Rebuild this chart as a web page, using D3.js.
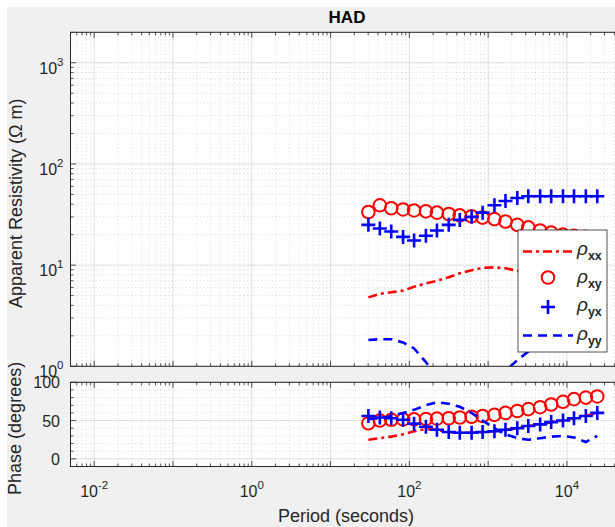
<!DOCTYPE html>
<html>
<head>
<meta charset="utf-8">
<script src="https://cdn.jsdelivr.net/npm/d3@7/dist/d3.min.js"></script>
<style>
  body { margin: 0; background: #ffffff; overflow: hidden; }
  svg { display: block; font-family: "Liberation Sans", Arial, Helvetica, sans-serif; }
</style>
</head>
<body>
<svg id="chart" width="615" height="527"></svg>
<script>
// Sounding periods (s)
const periods = [30.2, 42.2, 58.9, 83.2, 114.8, 162.2, 223.9, 316.2, 436.5, 616.6, 851.1,
                 1202, 1660, 2344, 3236, 4571, 6310, 8913, 12300, 17380, 24270];

// Apparent resistivity (ohm m)
const rhoXX = [4.8, 5.2, 5.4, 5.6, 6.1, 6.6, 7.0, 7.6, 8.3, 8.9, 9.4,
               9.5, 9.3, 8.8, 8.3, 7.8, 7.2, 6.8, 6.5, 6.2, 6.0];
const rhoXY = [33.5, 39, 36.5, 35.5, 34.7, 34, 33, 32, 31, 30.4, 29.5,
               28.5, 27, 25, 23.6, 22, 21, 20, 19.5, 19, 18.5];
const rhoYX = [25, 23, 21.5, 19, 17.5, 19.5, 22, 25, 28, 30, 33,
               39, 43, 46, 48, 48, 48, 48, 48, 48, 48];
const rhoYY = [1.82, 1.85, 1.85, 1.72, 1.5, 1.1, 0.8, 0.6, 0.5, 0.45, 0.5,
               0.65, 0.9, 1.15, 1.4, 1.8, 2.0, 2.1, 2.0, 1.9, 1.9];

// Impedance phase (degrees)
const phiXX = [25, 27, 29, 32, 36, 39, 38, 35, 34, 34, 35,
               36, 38, 40, 43, 45, 48, 50, 53, 56, 60];
const phiXY = [46.5, 50, 51, 51.5, 51.5, 52, 52.5, 53, 54, 55, 56,
               57.5, 60, 62.5, 65, 67.5, 71, 74.5, 78, 80, 81.5];
const phiYX = [56, 54, 53, 51, 46, 42, 38, 35, 34, 34, 35,
               36, 38, 40, 43, 45, 48, 50, 53, 56, 60];
const phiYY = [52, 53, 56, 60, 64, 70, 74, 72, 68, 60, 50,
               40, 32, 27, 25, 27, 29, 30, 28, 22, 30];

// Axis ticks
const periodTickExps = [-2, 0, 2, 4];
const rhoTickExps = [0, 1, 2, 3];
const phaseTicks = [0, 50, 100];

const titleText = "HAD";
const legendKeys = ["xx", "xy", "yx", "yy"];

const RED = "#ff0000", BLUE = "#0000ff", AX = "#262626";

const svg = d3.select("#chart");
// figure background
svg.append("rect").attr("x", 7).attr("y", 7).attr("width", 615).attr("height", 527).attr("fill", "#f0f0f0");

const L = 70.5, R = 622;
const top1 = 32.3, bot1 = 366.3;
const top2 = 382.3, bot2 = 466.5;

const x = d3.scaleLog().domain([0.005, 50000]).range([L, R]);
const yRho = d3.scaleLog().domain([1, 2000]).range([bot1, top1]);
const yPhi = d3.scaleLinear().domain([-10, 100]).range([bot2, top2]);

const defs = svg.append("defs");
defs.append("clipPath").attr("id", "clipTop").append("rect")
  .attr("x", L).attr("y", top1).attr("width", R - L).attr("height", bot1 - top1);
defs.append("clipPath").attr("id", "clipBot").append("rect")
  .attr("x", L).attr("y", top2).attr("width", R - L).attr("height", bot2 - top2);

// log-scale minor/major values within a domain
function logValues(domain) {
  const out = [];
  const lo = Math.floor(Math.log10(domain[0])), hi = Math.ceil(Math.log10(domain[1]));
  for (let d = lo; d <= hi; d++) {
    for (let m = 1; m <= 9; m++) {
      const v = m * Math.pow(10, d);
      if (v >= domain[0] * 0.9999 && v <= domain[1] * 1.0001) out.push({ v, major: m === 1 });
    }
  }
  return out;
}

const xVals = logValues(x.domain());

function drawPanel(yScale, yVals, top, bot, clipId) {
  const g = svg.append("g");
  g.append("rect").attr("x", L).attr("y", top).attr("width", R - L).attr("height", bot - top).attr("fill", "#ffffff");
  const grid = g.append("g");
  // minor grid (dotted)
  xVals.filter(d => !d.major).forEach(d => {
    grid.append("line").attr("x1", x(d.v)).attr("x2", x(d.v)).attr("y1", top).attr("y2", bot)
      .attr("stroke", AX).attr("stroke-opacity", 0.28).attr("stroke-width", 0.6).attr("stroke-dasharray", "1,2.6");
  });
  yVals.filter(d => !d.major).forEach(d => {
    grid.append("line").attr("x1", L).attr("x2", R).attr("y1", yScale(d.v)).attr("y2", yScale(d.v))
      .attr("stroke", AX).attr("stroke-opacity", 0.28).attr("stroke-width", 0.6).attr("stroke-dasharray", "1,2.6");
  });
  // major grid (solid)
  xVals.filter(d => d.major).forEach(d => {
    grid.append("line").attr("x1", x(d.v)).attr("x2", x(d.v)).attr("y1", top).attr("y2", bot)
      .attr("stroke", AX).attr("stroke-opacity", 0.15).attr("stroke-width", 1);
  });
  yVals.filter(d => d.major).forEach(d => {
    grid.append("line").attr("x1", L).attr("x2", R).attr("y1", yScale(d.v)).attr("y2", yScale(d.v))
      .attr("stroke", AX).attr("stroke-opacity", 0.15).attr("stroke-width", 1);
  });
  // tick marks on all four sides (inside)
  const ticks = g.append("g").attr("stroke", AX).attr("stroke-width", 0.8);
  xVals.forEach(d => {
    const len = d.major ? 5.5 : 3;
    const xx = x(d.v);
    ticks.append("line").attr("x1", xx).attr("x2", xx).attr("y1", bot).attr("y2", bot - len);
    ticks.append("line").attr("x1", xx).attr("x2", xx).attr("y1", top).attr("y2", top + len);
  });
  yVals.forEach(d => {
    const len = d.major ? 5.5 : 3;
    const yy = yScale(d.v);
    ticks.append("line").attr("x1", L).attr("x2", L + len).attr("y1", yy).attr("y2", yy);
    ticks.append("line").attr("x1", R).attr("x2", R - len).attr("y1", yy).attr("y2", yy);
  });
  const plot = g.append("g").attr("clip-path", `url(#${clipId})`);
  g.append("rect").attr("x", L).attr("y", top).attr("width", R - L).attr("height", bot - top)
    .attr("fill", "none").attr("stroke", AX).attr("stroke-width", 1);
  return plot;
}

// top panel: resistivity
const rhoVals = logValues(yRho.domain());
const plotTop = drawPanel(yRho, rhoVals, top1, bot1, "clipTop");

// bottom panel: phase
const phiVals = [];
for (let v = -10; v <= 100; v += 10) phiVals.push({ v, major: phaseTicks.includes(v) });
const plotBot = drawPanel(yPhi, phiVals, top2, bot2, "clipBot");

function lineSeries(g, vals, yScale, color, dash) {
  const line = d3.line().x((d, i) => x(periods[i])).y(d => yScale(d));
  g.append("path").datum(vals).attr("d", line).attr("fill", "none")
    .attr("stroke", color).attr("stroke-width", 2.6).attr("stroke-dasharray", dash);
}
function circleSeries(g, vals, yScale) {
  g.selectAll(null).data(vals).join("circle")
    .attr("cx", (d, i) => x(periods[i])).attr("cy", d => yScale(d)).attr("r", 6.3)
    .attr("fill", "none").attr("stroke", RED).attr("stroke-width", 2);
}
function plusSeries(g, vals, yScale) {
  const s = 7;
  g.selectAll(null).data(vals).join("path")
    .attr("d", (d, i) => {
      const cx = x(periods[i]), cy = yScale(d);
      return `M${cx - s},${cy}H${cx + s}M${cx},${cy - s}V${cy + s}`;
    })
    .attr("fill", "none").attr("stroke", BLUE).attr("stroke-width", 2.6);
}

const DASHDOT = "9,4,3,4", DASHED = "9,6";

lineSeries(plotTop, rhoXX, yRho, RED, DASHDOT);
circleSeries(plotTop, rhoXY, yRho);
plusSeries(plotTop, rhoYX, yRho);
lineSeries(plotTop, rhoYY.map(v => Math.max(v, 0.3)), yRho, BLUE, DASHED);

lineSeries(plotBot, phiXX, yPhi, RED, DASHDOT);
circleSeries(plotBot, phiXY, yPhi);
plusSeries(plotBot, phiYX, yPhi);
lineSeries(plotBot, phiYY, yPhi, BLUE, DASHED);

// tick labels
const labels = svg.append("g").attr("fill", AX).attr("font-size", 16);
periodTickExps.forEach(e => {
  const t = labels.append("text").attr("x", x(Math.pow(10, e))).attr("y", 497).attr("text-anchor", "middle");
  t.append("tspan").text("10");
  t.append("tspan").attr("dy", -8).attr("font-size", 11.5).text(String(e));
});
rhoTickExps.forEach(e => {
  const t = labels.append("text").attr("x", 63.5).attr("y", yRho(Math.pow(10, e)) + 11).attr("text-anchor", "end");
  t.append("tspan").text("10");
  t.append("tspan").attr("dy", -8).attr("font-size", 11.5).text(String(e));
});
phaseTicks.forEach(v => {
  labels.append("text").attr("x", 60).attr("y", yPhi(v) + 6).attr("text-anchor", "end").text(String(v));
});

// axis titles
svg.append("text").attr("x", 347).attr("y", 23).attr("text-anchor", "middle")
  .attr("font-size", 17).attr("font-weight", "bold").attr("fill", "#000").text(titleText);
svg.append("text").attr("x", 346).attr("y", 522).attr("text-anchor", "middle")
  .attr("font-size", 18).attr("fill", AX).text("Period (seconds)");
svg.append("text").attr("transform", `translate(22,${(top1 + bot1) / 2 + 4}) rotate(-90)`)
  .attr("text-anchor", "middle").attr("font-size", 18).attr("fill", AX).text("Apparent Resistivity (\u03A9 m)");
svg.append("text").attr("transform", `translate(21,${(top2 + bot2) / 2 + 4}) rotate(-90)`)
  .attr("text-anchor", "middle").attr("font-size", 18).attr("fill", AX).text("Phase (degrees)");

// legend
const lg = svg.append("g");
lg.append("rect").attr("x", 518).attr("y", 230).attr("width", 89).attr("height", 122)
  .attr("fill", "#ffffff").attr("stroke", AX).attr("stroke-width", 0.8);
const rows = [251.5, 279.5, 308, 336.5];
lg.append("line").attr("x1", 523).attr("x2", 573).attr("y1", rows[0]).attr("y2", rows[0])
  .attr("stroke", RED).attr("stroke-width", 2.6).attr("stroke-dasharray", DASHDOT);
lg.append("circle").attr("cx", 548).attr("cy", rows[1] - 2).attr("r", 6.3)
  .attr("fill", "none").attr("stroke", RED).attr("stroke-width", 2);
lg.append("path").attr("d", `M${541},${rows[2] - 1}H${555}M${548},${rows[2] - 8}V${rows[2] + 6}`)
  .attr("stroke", BLUE).attr("stroke-width", 2.6).attr("fill", "none");
lg.append("line").attr("x1", 523).attr("x2", 573).attr("y1", rows[3] - 1).attr("y2", rows[3] - 1)
  .attr("stroke", BLUE).attr("stroke-width", 2.6).attr("stroke-dasharray", DASHED);
legendKeys.forEach((k, i) => {
  const t = lg.append("text").attr("x", 577).attr("y", rows[i] + 3).attr("fill", AX);
  t.append("tspan").attr("font-size", 19).attr("font-style", "italic").text("\u03C1");
  t.append("tspan").attr("dy", 5).attr("font-size", 12.5).attr("font-weight", "bold").text(k);
});
</script>
</body>
</html>
